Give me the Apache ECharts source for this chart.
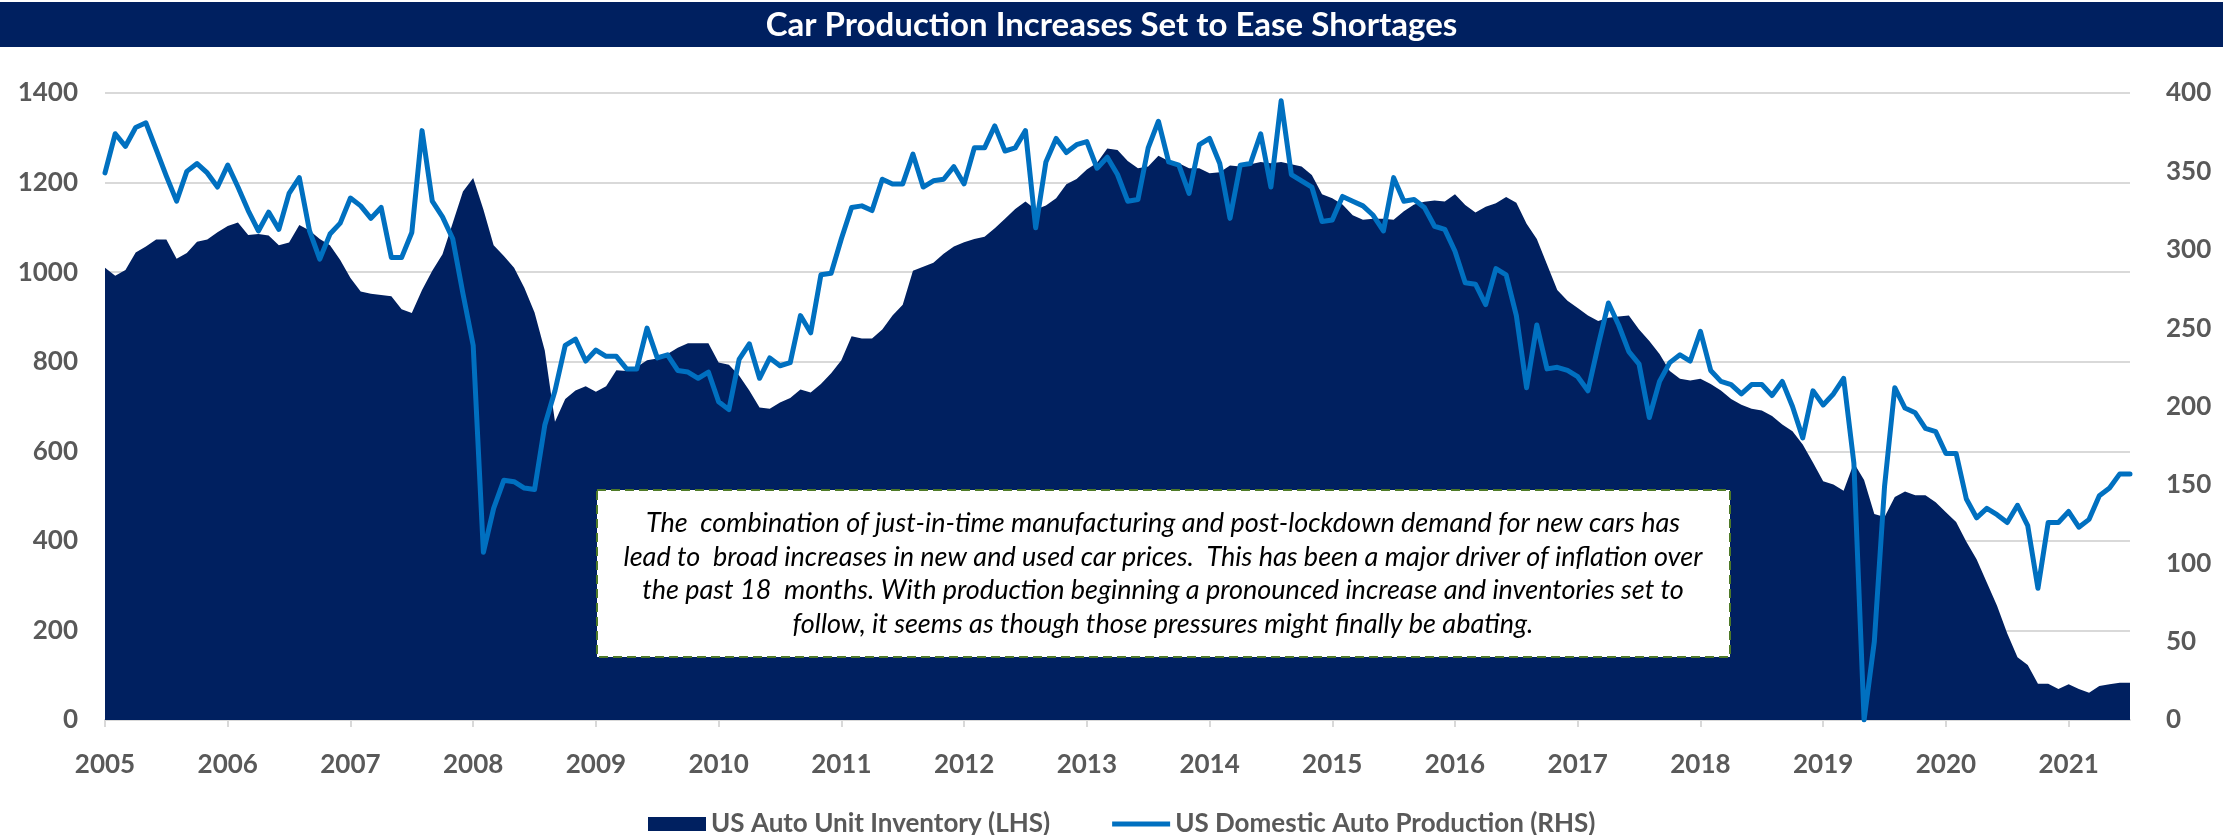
<!doctype html>
<html lang="en">
<head>
<meta charset="utf-8" />
<title>Car Production Increases Set to Ease Shortages</title>
<script src="https://cdn.jsdelivr.net/npm/echarts@6/dist/echarts.min.js"></script>
<style>
  html, body { margin: 0; padding: 0; background: #fff; }
  #chart { width: 2223px; height: 835px; }
</style>
</head>
<body>
<div id="chart"></div>
<script>
// tick labels (one per January)
const years = ['2005','2006','2007','2008','2009','2010','2011','2012','2013',
  '2014','2015','2016','2017','2018','2019','2020','2021'];

// US Auto Unit Inventory, monthly, Jan 2005 - Jul 2021 (LHS)
const inventory = [
  1010, 992,1005,1044,1057,1073,1073,1030,1043,1068,1073,1089, // 2005
  1103,1111,1083,1085,1082,1060,1066,1105,1093,1074,1060,1027, // 2006
   987, 957, 952, 949, 946, 917, 909, 960,1003,1040,1110,1180, // 2007
  1210,1140,1060,1036,1010, 965, 910, 825, 666, 717, 736, 745, // 2008
   733, 745, 781, 779, 788, 803, 807, 817, 831, 841, 841, 841, // 2009
   798, 793, 769, 736, 698, 695, 709, 719, 738, 731, 750, 774, // 2010
   803, 857, 852, 852, 872, 903, 927,1003,1012,1021,1041,1057, // 2011
  1067,1074,1079,1098,1119,1141,1158,1140,1149,1165,1196,1208, // 2012
  1229,1244,1276,1273,1248,1232,1236,1260,1248,1243,1232,1232, // 2013
  1221,1223,1238,1236,1241,1246,1243,1246,1241,1236,1217,1174, // 2014
  1165,1151,1127,1117,1119,1119,1117,1136,1151,1157,1160,1158, // 2015
  1174,1150,1133,1146,1154,1168,1155,1108,1074,1017, 960, 936, // 2016
   920, 903, 891, 898, 901, 903, 872, 846, 817, 779, 762, 758, // 2017
   762, 750, 736, 717, 704, 695, 691, 679, 660, 645, 615, 575, // 2018
   533, 526, 512, 574, 536, 460, 453, 498, 510, 502, 502, 486, // 2019
   464, 442, 398, 359, 307, 255, 193, 140, 123,  81,  81,  69, // 2020
    80,  69,  61,  76,  80,  83,  83                           // 2021
];

// US Domestic Auto Production, monthly (RHS)
const production = [
  349, 374, 366, 378, 381, 364, 347, 331, 350, 355, 349, 340, // 2005
  354, 340, 325, 312, 324, 313, 336, 346, 312, 294, 310, 317, // 2006
  333, 328, 320, 327, 295, 295, 311, 376, 331, 321, 307, 272, // 2007
  239, 107, 135, 153, 152, 148, 147, 188, 210, 239, 243, 229, // 2008
  236, 232, 232, 224, 224, 250, 231, 233, 223, 222, 218, 222, // 2009
  203, 198, 230, 240, 218, 231, 226, 228, 258, 247, 284, 285, // 2010
  307, 327, 328, 325, 345, 342, 342, 361, 340, 344, 345, 353, // 2011
  342, 365, 365, 379, 363, 365, 376, 314, 356, 371, 362, 367, // 2012
  369, 352, 359, 348, 331, 332, 365, 382, 356, 354, 336, 367, // 2013
  371, 355, 320, 354, 355, 374, 340, 395, 348, 344, 340, 318, // 2014
  319, 334, 331, 328, 322, 312, 346, 331, 332, 327, 315, 313, // 2015
  299, 279, 278, 265, 288, 284, 258, 212, 252, 224, 225, 223, // 2016
  219, 210, 239, 266, 252, 235, 227, 193, 216, 228, 233, 229, // 2017
  248, 223, 216, 214, 208, 214, 214, 207, 216, 200, 180, 210, // 2018
  201, 208, 218, 164,   0,  50, 149, 212, 199, 196, 186, 184, // 2019
  170, 170, 141, 129, 135, 131, 126, 137, 124,  84, 126, 126, // 2020
  133, 123, 128, 143, 148, 157, 157                           // 2021
];

const seriesNames = ['US Auto Unit Inventory (LHS)', 'US Domestic Auto Production (RHS)'];

const noteLines = [
  'The  combination of just-in-time manufacturing and post-lockdown demand for new cars has',
  'lead to  broad increases in new and used car prices.  This has been a major driver of inflation over',
  'the past 18  months. With production beginning a pronounced increase and inventories set to',
  'follow, it seems as though those pressures might finally be abating.'
];

// month categories: YYYY-MM
const categories = [];
years.forEach(y => {
  for (let m = 1; m <= 12; m++) categories.push(`${y}-${String(m).padStart(2, '0')}`);
});
categories.length = inventory.length;

const NAVY = '#002060';
const BLUE = '#0070C0';
const GREY = '#595959';
const GRID = '#d9d9d9';
const FONT = 'Lato, "Open Sans", sans-serif';

const chart = echarts.init(document.getElementById('chart'), null, { renderer: 'canvas' });

const isJan = (i) => i % 12 === 0;
const axisText = { color: GREY, fontFamily: FONT, fontWeight: 'bold', fontSize: 26 };

const option = {
  animation: false,
  backgroundColor: '#fff',
  title: {
    text: 'Car Production Increases Set to Ease Shortages',
    left: 'center',
    top: 4,
    z: 10,
    textStyle: { color: '#fff', fontFamily: FONT, fontWeight: 'bold', fontSize: 33 }
  },
  legend: {
    left: 643,
    top: 806,
    itemGap: 62,
    itemWidth: 58,
    itemHeight: 14,
    textStyle: { color: GREY, fontFamily: FONT, fontWeight: 'bold', fontSize: 26 },
    data: [
      { name: seriesNames[0], icon: 'rect' },
      // thick flat line, like the Excel legend key
      { name: seriesNames[1], icon: 'path://M0,0H56V5H0Z' }
    ]
  },
  grid: { left: 105, right: 93, top: 93, bottom: 115, containLabel: false },
  xAxis: {
    type: 'category',
    boundaryGap: false,
    data: categories,
    axisLine: { lineStyle: { color: GRID, width: 2 } },
    axisTick: { interval: isJan, length: 7, lineStyle: { color: GRID, width: 2 } },
    axisLabel: Object.assign({
      interval: isJan,
      margin: 32,
      formatter: v => v.slice(0, 4)
    }, axisText),
    splitLine: { show: false }
  },
  yAxis: [
    {
      type: 'value', min: 0, max: 1400, interval: 200,
      axisLine: { show: false }, axisTick: { show: false },
      axisLabel: Object.assign({ margin: 27, formatter: v => String(v) }, axisText),
      splitLine: { lineStyle: { color: GRID, width: 2 } }
    },
    {
      type: 'value', min: 0, max: 400, interval: 50,
      axisLine: { show: false }, axisTick: { show: false },
      axisLabel: Object.assign({ margin: 36, formatter: v => String(v) }, axisText),
      splitLine: { show: false }
    }
  ],
  series: [
    {
      name: seriesNames[0], type: 'line', yAxisIndex: 0, data: inventory,
      symbol: 'none',
      lineStyle: { width: 0 },
      itemStyle: { color: NAVY },
      areaStyle: { color: NAVY, opacity: 1 }
    },
    {
      name: seriesNames[1], type: 'line', yAxisIndex: 1, data: production,
      symbol: 'none',
      itemStyle: { color: BLUE },
      lineStyle: { color: BLUE, width: 5, join: 'round', cap: 'round' }
    }
  ],
  graphic: [
    // title bar
    { type: 'rect', z: 0, shape: { x: 0, y: 2, width: 2223, height: 45 }, style: { fill: NAVY } },
    // commentary box
    {
      type: 'group', z: 100,
      children: [
        {
          type: 'rect', z: 100,
          shape: { x: 597, y: 490, width: 1133, height: 167 },
          style: { fill: '#fff', stroke: '#4f7a28', lineWidth: 2, lineDash: [9, 5] }
        },
        {
          type: 'text', z: 101,
          style: {
            x: 1163, y: 574,
            text: noteLines.join('\n'),
            align: 'center', verticalAlign: 'middle',
            fill: '#000', fontFamily: FONT, fontStyle: 'italic', fontSize: 27, lineHeight: 33.5
          }
        }
      ]
    }
  ]
};

chart.setOption(option);
</script>
</body>
</html>
